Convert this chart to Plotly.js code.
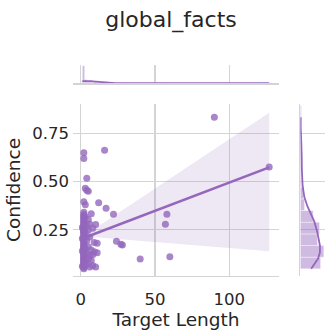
<!DOCTYPE html>
<html><head><meta charset="utf-8">
<script src="https://cdn.plot.ly/plotly-3.0.1.min.js"></script>
<style>html,body{margin:0;padding:0;background:#fff}#chart{width:332px;height:335px}</style>
</head><body><div id="chart"></div>
<script>
// ---- data ----
const targetLength = [
  90,127,16,58,57,60,40,28,27,24,22,17,12,11,11,10,10,
  2,2,4,3,4,5,2,3,
  1,1,1,1,
  2,2,2,2,2,2,2,2,2,2,
  2,2,2,2,2,2,2,2,2,2,2,2,
  2,2,2,2,2,2,2,2,
  2,2,2,2,2,2,2,2,2,2,
  2,2,2,2,2,2,2,
  3,3,3,3,
  4,4,4,4,
  5,5,5,5,
  6,6,6,6,
  7,7,7,
  8,8,8,
  9,9
];
const confidence = [
  0.833,0.575,0.663,0.331,0.279,0.111,0.099,0.172,0.176,0.191,0.331,0.362,0.390,0.181,0.132,0.278,0.058,
  0.649,0.620,0.517,0.465,0.455,0.450,0.395,0.380,
  0.062,0.141,0.205,0.262,
  0.048,0.055,0.061,0.066,0.074,0.079,0.086,0.091,0.097,0.103,
  0.109,0.113,0.120,0.126,0.129,0.135,0.142,0.145,0.151,0.156,0.160,0.165,
  0.171,0.180,0.184,0.193,0.199,0.208,0.216,0.223,
  0.231,0.237,0.243,0.247,0.253,0.261,0.266,0.272,0.279,0.286,
  0.292,0.298,0.307,0.315,0.322,0.329,0.341,
  0.085,0.152,0.236,0.318,
  0.071,0.128,0.195,0.270,
  0.098,0.162,0.249,0.304,
  0.058,0.117,0.213,0.281,
  0.091,0.146,0.334,
  0.066,0.121,0.258,
  0.184,0.137
];
// confidence band of the regression
const ciX     = [1,     10,    30,    60,    90,    127];
const ciUpper = [0.226, 0.260, 0.362, 0.515, 0.668, 0.857];
const ciLower = [0.196, 0.212, 0.200, 0.181, 0.162, 0.139];
const xTickVals = [0, 50, 100];
const xTickText = ['0', '50', '100'];
const yTickVals = [0.25, 0.50, 0.75];
const yTickText = ['0.25', '0.50', '0.75'];

// ---- derived ----
const PURPLE = '#9467bd';
const n = targetLength.length;
const mean = a => a.reduce((s, v) => s + v, 0) / a.length;
const mx = mean(targetLength), my = mean(confidence);
let sxx = 0, sxy = 0;
for (let i = 0; i < n; i++) { sxx += (targetLength[i]-mx)**2; sxy += (targetLength[i]-mx)*(confidence[i]-my); }
const slope = sxy / sxx, icpt = my - slope * mx;
const xMin = Math.min(...targetLength), xMax = Math.max(...targetLength);
const yMin = Math.min(...confidence), yMax = Math.max(...confidence);
const lineX = [xMin, xMax];
const lineY = lineX.map(v => icpt + slope * v);

const NBX = 79, NBY = 13;
const binX = (xMax - xMin) / NBX, binY = (yMax - yMin) / NBY;
function counts(d, lo, w, nb) { const c = new Array(nb).fill(0); d.forEach(v => { let k = Math.floor((v - lo) / w); if (k >= nb) k = nb - 1; c[k]++; }); return c; }
const cX = counts(targetLength, xMin, binX, NBX), cY = counts(confidence, yMin, binY, NBY);
function kde(d, w) {
  const m = mean(d);
  const sd = Math.sqrt(d.reduce((s, v) => s + (v - m) ** 2, 0) / (d.length - 1));
  const bw = sd * Math.pow(d.length, -0.2);
  const lo = Math.min(...d), hi = Math.max(...d);
  const g = [], val = [];
  for (let i = 0; i < 200; i++) {
    const t = lo + (hi - lo) * i / 199;
    let s = 0; d.forEach(v => { s += Math.exp(-0.5 * ((t - v) / bw) ** 2); });
    g.push(t); val.push(s / (bw * Math.sqrt(2 * Math.PI)) * w);
  }
  return {g, val};
}
const kX = kde(targetLength, binX), kY = kde(confidence, binY);
const topMax = Math.max(Math.max(...cX), Math.max(...kX.val)) * 1.05;
const rightMax = Math.max(Math.max(...cY), Math.max(...kY.val)) * 1.05;

const bandX = ciX.concat(ciX.slice().reverse());
const bandY = ciUpper.concat(ciLower.slice().reverse());

const traces = [
  {type: 'scatter', mode: 'markers', x: targetLength, y: confidence, xaxis: 'x', yaxis: 'y',
   marker: {color: PURPLE, size: 7, opacity: 0.8, line: {width: 0}}, hoverinfo: 'skip'},
  {type: 'scatter', mode: 'lines', x: bandX, y: bandY, fill: 'toself', fillcolor: 'rgba(148,103,189,0.16)',
   line: {width: 0}, xaxis: 'x', yaxis: 'y', hoverinfo: 'skip'},
  {type: 'scatter', mode: 'lines', x: lineX, y: lineY, line: {color: PURPLE, width: 2.6}, xaxis: 'x', yaxis: 'y'},
  {type: 'histogram', x: targetLength, xaxis: 'x2', yaxis: 'y2',
   xbins: {start: xMin, end: xMax + binX * 0.5, size: binX},
   marker: {color: 'rgba(148,103,189,0.45)', line: {color: 'rgba(255,255,255,0.7)', width: 0.6}}},
  {type: 'scatter', mode: 'lines', x: kX.g, y: kX.val, xaxis: 'x2', yaxis: 'y2', line: {color: PURPLE, width: 1.8}},
  {type: 'histogram', y: confidence, xaxis: 'x3', yaxis: 'y3',
   ybins: {start: yMin, end: yMax + binY * 0.5, size: binY},
   marker: {color: 'rgba(148,103,189,0.45)', line: {color: 'rgba(255,255,255,0.7)', width: 0.6}}},
  {type: 'scatter', mode: 'lines', x: kY.val, y: kY.g, xaxis: 'x3', yaxis: 'y3', line: {color: PURPLE, width: 1.8}}
];

const GRID = '#d4d4d4';
const FONT = 'DejaVu Sans, sans-serif';
const TXT = '#262626';
const xDom = [73/332, 279/332];
const yDom = [59/335, 231/335];
const layout = {
  width: 332, height: 335, margin: {l: 0, r: 0, t: 0, b: 0},
  paper_bgcolor: '#fff', plot_bgcolor: '#fff', showlegend: false, bargap: 0,
  font: {family: FONT, color: TXT},
  title: {text: 'global_facts', font: {family: FONT, size: 22, color: TXT},
          x: 171/332, xanchor: 'center', xref: 'paper', y: 1 - 19.5/335, yanchor: 'middle', yref: 'container'},
  xaxis: {domain: xDom, anchor: 'y', range: [-5.3, 133.6], tickvals: xTickVals, ticktext: xTickText,
          showgrid: true, gridcolor: GRID, gridwidth: 1.2, zeroline: false, showline: true, linecolor: GRID, linewidth: 1.2,
          ticks: '', ticklabelstandoff: 8, tickfont: {size: 16.5, color: TXT},
          title: {text: 'Target Length', font: {size: 18.5, color: TXT}, standoff: 4}},
  yaxis: {domain: yDom, anchor: 'x', range: [0.011, 0.902], tickvals: yTickVals, ticktext: yTickText,
          showgrid: true, gridcolor: GRID, gridwidth: 1.2, zeroline: false, showline: false,
          ticks: '', ticklabelstandoff: 3, tickfont: {size: 16.5, color: TXT},
          title: {text: 'Confidence', font: {size: 18.5, color: TXT}, standoff: 6}},
  xaxis2: {domain: xDom, anchor: 'y2', range: [-5.3, 133.6], tickvals: xTickVals, showticklabels: false,
           showgrid: true, gridcolor: GRID, gridwidth: 1.2, zeroline: false, showline: true, linecolor: GRID, linewidth: 1.2, ticks: ''},
  yaxis2: {domain: [(335-83.3)/335, (335-65)/335], anchor: 'x2', range: [0, topMax], showgrid: false,
           showticklabels: false, zeroline: false, showline: false, ticks: ''},
  xaxis3: {domain: [300.3/332, 325/332], anchor: 'y3', range: [0, rightMax], showgrid: false,
           showticklabels: false, zeroline: false, showline: false, ticks: ''},
  yaxis3: {domain: yDom, anchor: 'x3', range: [0.011, 0.902], tickvals: yTickVals, showticklabels: false,
           showgrid: true, gridcolor: GRID, gridwidth: 1.2, zeroline: false, showline: true, linecolor: GRID, linewidth: 1.2, ticks: ''}
};
Plotly.newPlot('chart', traces, layout, {displayModeBar: false, staticPlot: true});
</script>
</body></html>
